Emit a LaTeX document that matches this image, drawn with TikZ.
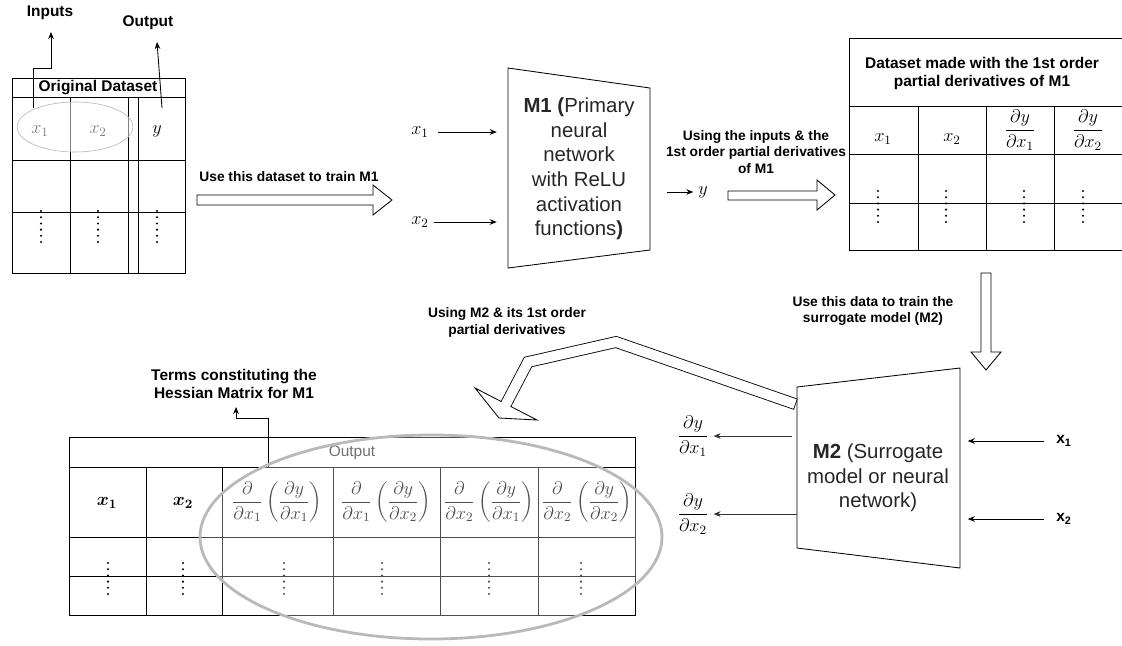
\RequirePackage{fix-cm}
\documentclass[tikz,border=0pt]{standalone}
\usepackage[no-math]{fontspec}
\setmainfont{Liberation Sans}
\usepackage{amsmath,bm}
\usetikzlibrary{arrows.meta}

\tikzset{
  ttl/.style={font=\fontsize{11}{12.8}\selectfont\bfseries, align=center},
  lbl/.style={font=\fontsize{9.8}{12}\selectfont\bfseries, align=center},
  cell/.style={font=\fontsize{13}{15}\selectfont},
  model/.style={font=\fontsize{14.5}{17.5}\selectfont, align=center, text=black!85},
  grid/.style={line width=0.6pt},
  hollow/.style={draw, fill=white, line width=0.6pt, line join=miter},
  ptr/.style={-{Stealth[length=5pt,width=4pt]}, line width=0.6pt},
}
% a column of six dots, top dot at #2
\newcommand{\coldots}[2]{\foreach \k in {0,...,5} {\fill (#1,#2+\k*6.2) circle [radius=1.15];}}

\begin{document}
\begin{tikzpicture}[x=0.025cm, y=-0.025cm]
\useasboundingbox (0,0) rectangle (1122,645);

% original dataset
\draw[grid] (12,78) rectangle (185,273);
\foreach \y in {97,160,212}
  \draw[grid] (12,\y) -- (185,\y);
\foreach \x in {70,128,138}
  \draw[grid] (\x,97) -- (\x,273);
\node[ttl] (orig) at (98,88) {Original Dataset};
\node[cell] (ox1) at (40,131) {$x_1$};
\node[cell] (ox2) at (98,131) {$x_2$};
\node[cell] (oy) at (157,131) {$y$};
\foreach \x in {41,98,157} {\coldots{\x}{211}}
\node[ttl] (inputs) at (50,13) {Inputs};
\node[ttl] (output) at (148,23) {Output};
\coordinate (inA) at (33,108);
\coordinate (inB) at (51,32);
\coordinate (outA) at (162,108);
\coordinate (outB) at (157,42);
\draw[ptr] (inA) -- (33,68) -| (inB);
\draw[ptr] (outA) -- (outB);
\draw[gray!60, fill=white, fill opacity=0.5] (75,127) ellipse [x radius=58, y radius=25];

% train M1
\node[lbl] (trainm1) at (289,177) {Use this dataset to train M1};
\draw[hollow] (197,195) -- (373,195) -- (373,185) -- (392,200) -- (373,215) -- (373,205) -- (197,205) -- cycle;

% M1
\coordinate (m1a) at (508,68);
\coordinate (m1b) at (650,88);
\coordinate (m1c) at (650,250);
\coordinate (m1d) at (508,268);
\draw[grid] (m1a) -- (m1b) -- (m1c) -- (m1d) -- cycle;
\node[model] (m1) at (579,169) {\textbf{M1 (}Primary\\neural\\network\\with ReLU\\activation\\functions\textbf{)}};
\node[cell] (m1x1) at (420,132) {$x_1$};
\node[cell] (m1x2) at (420,222) {$x_2$};
\draw[ptr, shorten <=3pt, shorten >=8pt] (m1x1.east) -- (m1x1.east -| m1a);
\draw[ptr, shorten >=8pt] (m1x2.east) -- (m1x2.east -| m1a);
\node[cell] (m1y) at (703,192) {$y$};
\draw[ptr, shorten <=12pt] (m1y.west -| m1b) -- (m1y.west);

% derivative dataset
\node[lbl] (usingm1) at (756,152) {Using the inputs \& the\\1st order partial derivatives\\of M1};
\draw[hollow] (728,191) -- (817,191) -- (817,180) -- (835,195) -- (817,210) -- (817,200) -- (728,200) -- cycle;
\draw[grid] (1122,38) -| (849,250) -- (1122,250);
\foreach \y in {106,154,203}
  \draw[grid] (849,\y) -- (1122,\y);
\foreach \x in {918,986,1054}
  \draw[grid] (\x,106) -- (\x,250);
\node[ttl] (derivset) at (982,73) {Dataset made with the 1st order\\partial derivatives of M1};
\node[cell] (dx1) at (883,139) {$x_1$};
\node[cell] (dx2) at (952,139) {$x_2$};
\node[cell] (dd1) at (1020,130) {$\dfrac{\partial y}{\partial x_1}$};
\node[cell] (dd2) at (1088,130) {$\dfrac{\partial y}{\partial x_2}$};
\foreach \x in {878,946,1024,1083} {\coldots{\x}{191}}

% train M2
\node[lbl] (trainm2) at (873,311) {Use this data to train the\\surrogate model (M2)};
\draw[hollow] (981,273) -- (991,273) -- (991,352) -- (1001,352) -- (986,370) -- (971,352) -- (981,352) -- cycle;

% M2
\coordinate (m2a) at (797,387);
\coordinate (m2b) at (960,368);
\coordinate (m2c) at (960,568);
\coordinate (m2d) at (797,548);
\draw[grid] (m2a) -- (m2b) -- (m2c) -- (m2d) -- cycle;
\node[model] (m2) at (878,478) {\textbf{M2} (Surrogate\\model or neural\\network)};
\node[ttl] (m2x1) at (1064,441) {x\textsubscript{1}};
\node[ttl] (m2x2) at (1064,519) {x\textsubscript{2}};
\draw[ptr, shorten <=5pt, shorten >=5.5pt] (m2x1.west) -- (m2x1.west -| m2b);
\draw[ptr, shorten <=5pt, shorten >=5.5pt] (m2x2.west) -- (m2x2.west -| m2b);
\node[cell] (mo1) at (693,436) {$\dfrac{\partial y}{\partial x_1}$};
\node[cell] (mo2) at (693,514) {$\dfrac{\partial y}{\partial x_2}$};
\draw[ptr, gray!40!black, shorten <=3.5pt] (mo1.east -| m2a) -- (mo1.east);
\draw[ptr, gray!40!black] (mo2.east -| m2a) -- (mo2.east);

% back to the Hessian table
\node[lbl] (usingm2) at (507,322) {Using M2 \& its 1st order\\partial derivatives};
\coordinate (bt) at (795,404);
\coordinate (bb1) at (616,342);
\coordinate (bb2) at (528,362);
\coordinate (bh) at (506,404);
\draw[hollow] (537,420) -- (499,418) -- (475,388) -- cycle;
\draw[line width=8.3pt, line join=miter, shorten <=-0.6pt] (bt) -- (bb1) -- (bb2) -- (bh);
\draw[white, line width=7.1pt, line join=miter, shorten >=-1.5pt] (bt) -- (bb1) -- (bb2) -- (bh);

% Hessian table
\draw[grid] (69,437) rectangle (635,615);
\foreach \y in {467,537,576}
  \draw[grid] (69,\y) -- (635,\y);
\foreach \x in {146,222,333,440,538}
  \draw[grid] (\x,467) -- (\x,615);
\node[font=\fontsize{11}{13}\selectfont, text=black!80] (outttl) at (352,453) {Output};
\node[cell] (hx1) at (107,503) {$\bm{x_1}$};
\node[cell] (hx2) at (183,503) {$\bm{x_2}$};
\node[cell] (h11) at (277,502) {$\dfrac{\partial}{\partial x_1}\left(\dfrac{\partial y}{\partial x_1}\right)$};
\node[cell] (h12) at (386,502) {$\dfrac{\partial}{\partial x_1}\left(\dfrac{\partial y}{\partial x_2}\right)$};
\node[cell] (h21) at (489,502) {$\dfrac{\partial}{\partial x_2}\left(\dfrac{\partial y}{\partial x_1}\right)$};
\node[cell] (h22) at (587,502) {$\dfrac{\partial}{\partial x_2}\left(\dfrac{\partial y}{\partial x_2}\right)$};
\foreach \x in {108,183,284,382,489,581} {\coldots{\x}{563}}
\node[ttl] (hess) at (234,384) {Terms constituting the\\Hessian Matrix for M1};
\coordinate (hessA) at (268,467);
\coordinate (hessB) at (236,407);
\draw[ptr] (hessA) -- (268,418) -| (hessB);
\draw[gray!55, line width=2pt, fill=white, fill opacity=0.3] (431,537) ellipse [x radius=231, y radius=102];
\end{tikzpicture}
\end{document}
